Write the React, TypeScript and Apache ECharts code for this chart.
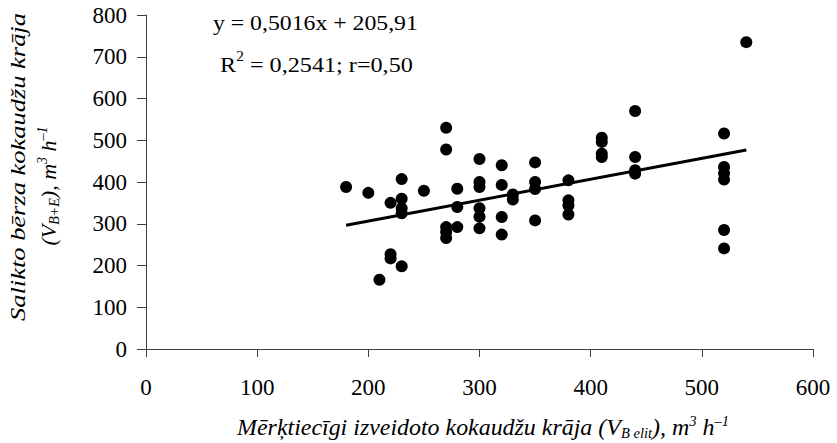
import React, { useEffect, useRef } from "react";
import * as echarts from "echarts";

const xValues = [180, 200, 210, 220, 220, 220, 230, 230, 230, 230, 230, 250, 270, 270, 270, 270, 270, 280, 280, 280, 300, 300, 300, 300, 300, 300, 320, 320, 320, 320, 330, 330, 350, 350, 350, 350, 380, 380, 380, 380, 410, 410, 410, 410, 440, 440, 440, 440, 520, 520, 520, 520, 520, 520, 540];
const yValues = [388, 374, 166, 350, 227, 217, 407, 360, 337, 325, 198, 379, 530, 478, 292, 280, 266, 384, 340, 292, 455, 400, 388, 337, 317, 289, 440, 393, 316, 274, 370, 358, 447, 400, 383, 308, 404, 356, 344, 322, 506, 496, 468, 460, 570, 460, 428, 420, 516, 436, 421, 406, 285, 241, 735];

const slope = 0.5016;
const intercept = 205.91;
const trendX = [180, 540];

const equationLine1 = "y = 0,5016x + 205,91";
const equationLine2 = " = 0,2541; r=0,50";
const yTitleLine1 = "Salikto bērza kokaudžu krāja";

const FONT = "Liberation Serif";

function measure(text: string, font: string): number {
  const c = document.createElement("canvas");
  const ctx = c.getContext("2d");
  if (!ctx) return 0;
  ctx.font = font;
  return ctx.measureText(text).width;
}

export default function App() {
  const ref = useRef<HTMLDivElement>(null);
  useEffect(() => {
    if (!ref.current) return;
    const chart = echarts.init(ref.current, undefined, { renderer: "svg" });
    const points = xValues.map((x, i) => [x, yValues[i]]);
    const trend = trendX.map((x) => [x, slope * x + intercept]);
    const italic = { fontFamily: FONT, fontStyle: "italic", fontSize: 22, fill: "#000" };
    const small = { fontFamily: FONT, fontStyle: "italic", fontSize: 14, fill: "#000" };
    const w1 = measure(yTitleLine1, "italic 22px " + FONT);
    const yScale = w1 > 0 ? Math.min(1.3, Math.max(1, 308 / w1)) : 1.1;
    chart.setOption({
      animation: false,
      backgroundColor: "#fff",
      textStyle: { fontFamily: FONT },
      grid: { left: 146, right: 24, top: 15, bottom: 94, containLabel: false },
      xAxis: {
        type: "value",
        min: 0,
        max: 600,
        interval: 100,
        axisLine: { show: true, onZero: false, lineStyle: { color: "#404040", width: 1 } },
        axisTick: { show: true, length: 8, lineStyle: { color: "#404040" } },
        splitLine: { show: false },
        axisLabel: { margin: 27, color: "#000", fontFamily: FONT, fontSize: 23 },
      },
      yAxis: {
        type: "value",
        min: 0,
        max: 800,
        interval: 100,
        axisLine: { show: true, onZero: false, lineStyle: { color: "#404040", width: 1 } },
        axisTick: { show: true, length: 9, lineStyle: { color: "#404040" } },
        splitLine: { show: false },
        axisLabel: { margin: 19, color: "#000", fontFamily: FONT, fontSize: 23 },
      },
      series: [
        {
          type: "line",
          data: trend,
          symbol: "none",
          lineStyle: { color: "#000", width: 3 },
          z: 3,
        },
        {
          type: "scatter",
          data: points,
          symbol: "circle",
          symbolSize: 12,
          itemStyle: { color: "#000", opacity: 1 },
          z: 2,
        },
      ],
      graphic: [
        {
          type: "text",
          x: 213,
          y: 23,
          scaleX: 1.08,
          style: {
            text: equationLine1,
            fontFamily: FONT,
            fontSize: 22,
            fill: "#000",
            align: "left",
            verticalAlign: "middle",
          },
        },
        {
          type: "text",
          x: 220,
          y: 64,
          scaleX: 1.1,
          style: {
            text: "{a|R}{s|2}{a|" + equationLine2 + "}",
            align: "left",
            verticalAlign: "middle",
            rich: {
              a: { fontFamily: FONT, fontSize: 22, fill: "#000", lineHeight: 30 },
              s: { fontFamily: FONT, fontSize: 14, fill: "#000", verticalAlign: "top", lineHeight: 30 },
            },
          },
        },
        {
          type: "text",
          x: 483,
          y: 427,
          scaleX: 1.04,
          style: {
            text: "{i|Mērķtiecīgi izveidoto kokaudžu krāja (V}{sub|B elit}{i|), m}{sup|3}{i| h}{sup|–1}",
            align: "center",
            verticalAlign: "middle",
            rich: {
              i: { ...italic, fontSize: 23, lineHeight: 26 },
              sub: { ...small, verticalAlign: "bottom", lineHeight: 26 },
              sup: { ...small, verticalAlign: "top", lineHeight: 26 },
            },
          },
        },
        {
          type: "text",
          x: 17,
          y: 167,
          rotation: Math.PI / 2,
          scaleX: yScale,
          style: {
            text: yTitleLine1,
            ...italic,
            align: "center",
            verticalAlign: "middle",
          },
        },
        {
          type: "text",
          x: 48,
          y: 186,
          rotation: Math.PI / 2,
          style: {
            text: "{i|(V}{sub|B+E}{i|), m}{sup|3}{i| h}{sup|–1}",
            align: "center",
            verticalAlign: "middle",
            rich: {
              i: { ...italic, lineHeight: 26 },
              sub: { ...small, verticalAlign: "bottom", lineHeight: 26 },
              sup: { ...small, verticalAlign: "top", lineHeight: 26 },
            },
          },
        },
      ],
    });
    return () => chart.dispose();
  }, []);
  return (
    <div
      ref={ref}
      style={{ position: "fixed", left: 0, top: 0, width: 837, height: 443, background: "#fff" }}
    />
  );
}
